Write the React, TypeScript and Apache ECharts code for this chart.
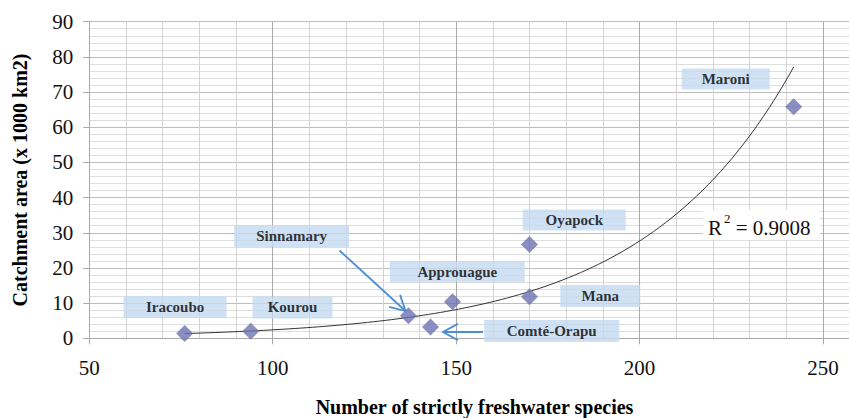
import React, { useEffect, useRef } from 'react';
import * as echarts from 'echarts';

// ---- data ----
const rivers = ['Iracoubo', 'Kourou', 'Sinnamary', 'Comté-Orapu', 'Approuague', 'Oyapock', 'Mana', 'Maroni'];
const species = [76, 94, 137, 143, 149, 170, 170, 242];
const area = [1.4, 2.0, 6.4, 3.2, 10.4, 26.7, 11.8, 65.8];
const rSquaredLabel = '0.9008';
// arrows (data coords): [x1, y1, x2, y2]
const arrowSinnamary = [118.2, 24.96, 136.2, 7.76];
const arrowComte = [157.3, 1.79, 146.4, 1.79];

// ---- label box layout (pixels, relative to each point) ----
const labelOffsets = [[-9.6, -26.4], [41.8, -23.8], [-116.8, -79.9], [121.2, 4], [4.8, -30], [44.7, -24.3], [70.7, -0.9], [-68, -27.9]];
const labelSizes = [[103, 22], [80, 22], [115, 22], [135, 22], [135, 21], [103, 21], [80, 22], [88, 21]];

const SERIF = 'Liberation Serif';

export default function App() {
  const ref = useRef<HTMLDivElement>(null);
  useEffect(() => {
    const chart = echarts.init(ref.current as HTMLDivElement, null, { renderer: 'svg' });

    // exponential trendline (least squares on ln y), as Excel does
    const n = species.length;
    const ly = area.map((v) => Math.log(v));
    const mx = species.reduce((s, v) => s + v, 0) / n;
    const my = ly.reduce((s, v) => s + v, 0) / n;
    let sxx = 0, sxy = 0;
    for (let i = 0; i < n; i++) {
      sxx += (species[i] - mx) ** 2;
      sxy += (species[i] - mx) * (ly[i] - my);
    }
    const b = sxy / sxx;
    const a = Math.exp(my - b * mx);
    const xmin = Math.min(...species), xmax = Math.max(...species);
    const trend: number[][] = [];
    const steps = 100;
    for (let i = 0; i <= steps; i++) {
      const x = xmin + ((xmax - xmin) * i) / steps;
      trend.push([x, a * Math.exp(b * x)]);
    }

    const scatterData = rivers.map((name, i) => ({
      name,
      value: [species[i], area[i]],
      label: { width: labelSizes[i][0], height: labelSizes[i][1], lineHeight: labelSizes[i][1] },
    }));

    const arrowColor = '#4a8fd6';

    chart.setOption({
      animation: false,
      backgroundColor: '#ffffff',
      grid: { left: 89.3, top: 21.7, width: 770.4, height: 316.6, outerBoundsMode: 'none', containLabel: false },
      xAxis: [
        {
          type: 'value', position: 'bottom', min: 50, max: 260, interval: 10,
          axisLine: { show: false }, axisTick: { show: false }, axisLabel: { show: false },
          splitLine: { show: true, lineStyle: { color: ['#a9a9a9', '#d3d3d3', '#d3d3d3', '#d3d3d3', '#d3d3d3'], width: 1 } },
        },
        {
          type: 'value', position: 'bottom', min: 50, max: 260, interval: 50,
          axisLine: { show: true, onZero: false, lineStyle: { color: '#a9a9a9', width: 1 } },
          axisTick: { show: true, length: 6, lineStyle: { color: '#a9a9a9' } },
          axisLabel: {
            show: true, showMaxLabel: false, margin: 19, fontSize: 21, fontFamily: SERIF, color: '#111',
            formatter: (v: number) => (v % 50 === 0 ? String(v) : ''),
          },
          splitLine: { show: false },
          name: 'Number of strictly freshwater species', nameLocation: 'middle', nameGap: 59,
          nameTextStyle: { fontFamily: SERIF, fontWeight: 'bold', fontSize: 20, color: '#000' },
        },
      ],
      yAxis: {
        type: 'value', min: 0, max: 90, interval: 10,
        axisLine: { show: true, lineStyle: { color: '#a9a9a9', width: 1 } },
        axisTick: { show: true, length: 6, lineStyle: { color: '#a9a9a9' } },
        axisLabel: { margin: 16, fontSize: 21, fontFamily: SERIF, color: '#111' },
        splitLine: { show: true, lineStyle: { color: '#bdbdbd', width: 1 } },
        minorTick: { show: false, splitNumber: 5 },
        minorSplitLine: { show: true, lineStyle: { color: '#dedede', width: 1 } },
        name: 'Catchment area (x 1000 km2)', nameLocation: 'middle', nameGap: 59,
        nameTextStyle: { fontFamily: SERIF, fontWeight: 'bold', fontSize: 20, color: '#000' },
      },
      series: [
        {
          type: 'line', xAxisIndex: 0, data: trend, showSymbol: false, symbol: 'none', smooth: false,
          lineStyle: { color: '#333333', width: 1 }, silent: true, z: 2,
        },
        {
          type: 'scatter', xAxisIndex: 0, data: scatterData, symbol: 'diamond', symbolSize: [17, 17],
          itemStyle: { color: '#6e72b2' }, z: 3,
          label: {
            show: true, position: 'inside', formatter: '{b}', backgroundColor: '#c6d9f1',
            color: '#000', fontFamily: SERIF, fontWeight: 'bold', fontSize: 15,
            align: 'center', verticalAlign: 'middle', padding: 0,
          },
          labelLayout: (p: any) => ({
            dx: labelOffsets[p.dataIndex][0],
            dy: labelOffsets[p.dataIndex][1],
            hideOverlap: false,
          }),
        },
        {
          type: 'custom', xAxisIndex: 0, silent: true, z: 4, clip: false,
          data: [arrowSinnamary, arrowComte],
          encode: { x: [0, 2], y: [1, 3] },
          renderItem: (params: any, api: any) => {
            const p1 = api.coord([api.value(0), api.value(1)]);
            const p2 = api.coord([api.value(2), api.value(3)]);
            const ang = Math.atan2(p2[1] - p1[1], p2[0] - p1[0]);
            const L = 17, w = 0.5;
            const h1 = [p2[0] - L * Math.cos(ang - w), p2[1] - L * Math.sin(ang - w)];
            const h2 = [p2[0] - L * Math.cos(ang + w), p2[1] - L * Math.sin(ang + w)];
            return {
              type: 'group',
              children: [
                { type: 'line', shape: { x1: p1[0], y1: p1[1], x2: p2[0], y2: p2[1] }, style: { stroke: arrowColor, lineWidth: 1.8, fill: 'none' } },
                { type: 'polyline', shape: { points: [h1, p2, h2] }, style: { stroke: arrowColor, lineWidth: 1.8, fill: 'none' } },
              ],
            };
          },
        },
      ],
      graphic: [
        { type: 'rect', shape: { x: 703, y: 210, width: 117, height: 30 }, style: { fill: '#ffffff' }, z: 10 },
        {
          type: 'text', x: 708, y: 212, z: 11,
          style: {
            text: '{a|R}{s|2}{a| = ' + rSquaredLabel + '}',
            rich: {
              a: { fontFamily: SERIF, fontSize: 21, fill: '#111', lineHeight: 26, verticalAlign: 'bottom' },
              s: { fontFamily: SERIF, fontSize: 13, fill: '#111', lineHeight: 26, verticalAlign: 'top', padding: [0, 0, 0, 2] },
            },
          },
        },
      ],
    });
    return () => chart.dispose();
  }, []);
  return <div ref={ref} style={{ position: 'absolute', left: 0, top: 0, width: 849, height: 418 }} />;
}
